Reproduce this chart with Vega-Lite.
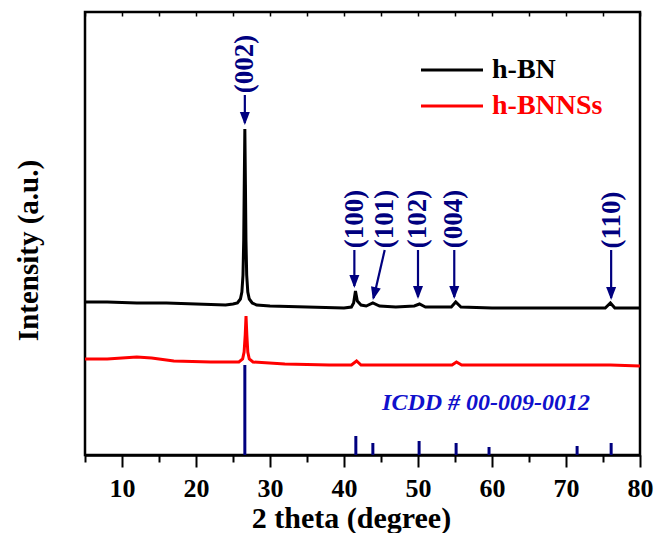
{
  "$schema": "https://vega.github.io/schema/vega-lite/v6.json",
  "width": 555,
  "height": 443,
  "autosize": {"type": "none"},
  "padding": {"left": 85, "top": 12, "right": 17, "bottom": 78},
  "background": "white",
  "config": {
    "view": {"stroke": "black", "strokeWidth": 2.5},
    "font": "Liberation Serif"
  },
  "datasets": {
    "curves": [
      {"sample": "h-BN", "x": 5, "y": 153},
      {"sample": "h-BN", "x": 8, "y": 153},
      {"sample": "h-BN", "x": 12, "y": 152},
      {"sample": "h-BN", "x": 16, "y": 152},
      {"sample": "h-BN", "x": 20, "y": 151},
      {"sample": "h-BN", "x": 24, "y": 150},
      {"sample": "h-BN", "x": 25.0, "y": 151},
      {"sample": "h-BN", "x": 25.6, "y": 152},
      {"sample": "h-BN", "x": 26.0, "y": 156},
      {"sample": "h-BN", "x": 26.2, "y": 163},
      {"sample": "h-BN", "x": 26.35, "y": 180},
      {"sample": "h-BN", "x": 26.45, "y": 215},
      {"sample": "h-BN", "x": 26.52, "y": 270},
      {"sample": "h-BN", "x": 26.6, "y": 326},
      {"sample": "h-BN", "x": 26.68, "y": 270},
      {"sample": "h-BN", "x": 26.75, "y": 215},
      {"sample": "h-BN", "x": 26.85, "y": 180},
      {"sample": "h-BN", "x": 27.0, "y": 163},
      {"sample": "h-BN", "x": 27.2, "y": 156},
      {"sample": "h-BN", "x": 27.6, "y": 152},
      {"sample": "h-BN", "x": 28.2, "y": 150},
      {"sample": "h-BN", "x": 30, "y": 149},
      {"sample": "h-BN", "x": 35, "y": 148},
      {"sample": "h-BN", "x": 40, "y": 147},
      {"sample": "h-BN", "x": 41.0, "y": 148},
      {"sample": "h-BN", "x": 41.3, "y": 152},
      {"sample": "h-BN", "x": 41.55, "y": 164},
      {"sample": "h-BN", "x": 41.8, "y": 154},
      {"sample": "h-BN", "x": 42.3, "y": 150},
      {"sample": "h-BN", "x": 43.0, "y": 149},
      {"sample": "h-BN", "x": 43.9, "y": 152},
      {"sample": "h-BN", "x": 44.8, "y": 149},
      {"sample": "h-BN", "x": 47, "y": 148},
      {"sample": "h-BN", "x": 49.5, "y": 149},
      {"sample": "h-BN", "x": 50.2, "y": 151},
      {"sample": "h-BN", "x": 51, "y": 148},
      {"sample": "h-BN", "x": 54.5, "y": 148},
      {"sample": "h-BN", "x": 55.1, "y": 153},
      {"sample": "h-BN", "x": 55.8, "y": 148},
      {"sample": "h-BN", "x": 60, "y": 147},
      {"sample": "h-BN", "x": 65, "y": 147},
      {"sample": "h-BN", "x": 70, "y": 147},
      {"sample": "h-BN", "x": 75.3, "y": 147},
      {"sample": "h-BN", "x": 76.0, "y": 152},
      {"sample": "h-BN", "x": 76.6, "y": 147},
      {"sample": "h-BN", "x": 80, "y": 147},
      {"sample": "h-BNNSs", "x": 5, "y": 96},
      {"sample": "h-BNNSs", "x": 8, "y": 96},
      {"sample": "h-BNNSs", "x": 10, "y": 97},
      {"sample": "h-BNNSs", "x": 12, "y": 98},
      {"sample": "h-BNNSs", "x": 14, "y": 97},
      {"sample": "h-BNNSs", "x": 17, "y": 94},
      {"sample": "h-BNNSs", "x": 22, "y": 93},
      {"sample": "h-BNNSs", "x": 25.8, "y": 93},
      {"sample": "h-BNNSs", "x": 26.3, "y": 96},
      {"sample": "h-BNNSs", "x": 26.5, "y": 103},
      {"sample": "h-BNNSs", "x": 26.65, "y": 120},
      {"sample": "h-BNNSs", "x": 26.76, "y": 139},
      {"sample": "h-BNNSs", "x": 26.87, "y": 120},
      {"sample": "h-BNNSs", "x": 27.0, "y": 103},
      {"sample": "h-BNNSs", "x": 27.2, "y": 96},
      {"sample": "h-BNNSs", "x": 27.7, "y": 93},
      {"sample": "h-BNNSs", "x": 32, "y": 91},
      {"sample": "h-BNNSs", "x": 38, "y": 90},
      {"sample": "h-BNNSs", "x": 41.0, "y": 90},
      {"sample": "h-BNNSs", "x": 41.7, "y": 94},
      {"sample": "h-BNNSs", "x": 42.3, "y": 90},
      {"sample": "h-BNNSs", "x": 50, "y": 90},
      {"sample": "h-BNNSs", "x": 54.6, "y": 90},
      {"sample": "h-BNNSs", "x": 55.2, "y": 93},
      {"sample": "h-BNNSs", "x": 55.9, "y": 90},
      {"sample": "h-BNNSs", "x": 76, "y": 90},
      {"sample": "h-BNNSs", "x": 80, "y": 89}
    ],
    "sticks": [
      {"x": 26.6, "h": 90},
      {"x": 41.6, "h": 19},
      {"x": 43.9, "h": 12},
      {"x": 50.15, "h": 14},
      {"x": 55.15, "h": 12},
      {"x": 59.6, "h": 8},
      {"x": 71.5, "h": 9},
      {"x": 76.1, "h": 12}
    ],
    "labels": [
      {"hkl": "(002)", "x": 26.6, "y": 391, "ax": 26.6, "ay": 360, "ax2": 26.6, "ay2": 332},
      {"hkl": "(100)", "x": 41.45, "y": 236, "ax": 41.4, "ay": 205, "ax2": 41.4, "ay2": 169},
      {"hkl": "(101)", "x": 45.5, "y": 236, "ax": 45.5, "ay": 205, "ax2": 44.0, "ay2": 157},
      {"hkl": "(102)", "x": 50.0, "y": 236, "ax": 50.0, "ay": 205, "ax2": 50.0, "ay2": 158},
      {"hkl": "(004)", "x": 54.8, "y": 236, "ax": 54.9, "ay": 205, "ax2": 54.9, "ay2": 158},
      {"hkl": "(110)", "x": 76.2, "y": 235, "ax": 76.1, "ay": 205, "ax2": 76.1, "ay2": 157}
    ],
    "heads": [
      {"hkl": "(002)", "x": 26.6, "y": 330},
      {"hkl": "(100)", "x": 41.4, "y": 167},
      {"hkl": "(101)", "x": 43.9, "y": 155},
      {"hkl": "(102)", "x": 50.0, "y": 156},
      {"hkl": "(004)", "x": 54.9, "y": 156},
      {"hkl": "(110)", "x": 76.1, "y": 155}
    ],
    "note": [
      {"text": "ICDD # 00-009-0012", "x": 59.2, "y": 52}
    ]
  },
  "resolve": {"axis": {"x": "independent", "y": "independent"}},
  "layer": [
    {
      "data": {"name": "sticks"},
      "mark": {"type": "rule", "color": "#00007F", "strokeWidth": 3},
      "encoding": {
        "x": {
          "field": "x", "type": "quantitative",
          "scale": {"domain": [5, 80], "nice": false, "zero": false},
          "axis": {
            "orient": "top", "values": [5, 10, 15, 20, 25, 30, 35, 40, 45, 50, 55, 60, 65, 70, 75, 80],
            "labels": false, "title": null, "domain": false, "grid": false, "offset": -4,
            "tickSize": 4, "tickWidth": 1.5, "tickColor": "black"
          }
        },
        "y": {"field": "h", "type": "quantitative", "scale": {"domain": [0, 443], "nice": false, "zero": false}, "axis": null},
        "y2": {"datum": 0}
      }
    },
    {
      "data": {"name": "curves"},
      "mark": {"type": "line", "strokeWidth": 3},
      "encoding": {
        "x": {
          "field": "x", "type": "quantitative",
          "axis": {
            "orient": "bottom",
            "values": [5, 10, 15, 20, 25, 30, 35, 40, 45, 50, 55, 60, 65, 70, 75, 80],
            "labelExpr": "datum.value % 10 === 0 ? datum.label : ''",
            "labelFont": "Liberation Serif", "labelFontWeight": "bold", "labelFontSize": 26,
            "labelColor": "black", "labelBaseline": "alphabetic", "labelPadding": 29,
            "labelFlush": false, "labelOverlap": false,
            "tickColor": "black", "tickWidth": 2,
            "tickSize": {"condition": {"test": "datum.value % 10 === 0", "value": 12}, "value": 7},
            "domain": true, "domainColor": "black", "domainWidth": 2.5, "grid": false,
            "title": "2 theta (degree)", "titleFont": "Liberation Serif", "titleFontWeight": "bold",
            "titleFontSize": 30, "titleColor": "black", "titleX": 266, "titleY": 72,
            "titleBaseline": "alphabetic", "titleAlign": "center"
          }
        },
        "y": {
          "field": "y", "type": "quantitative",
          "axis": {
            "labels": false, "ticks": false, "domain": false, "grid": false,
            "title": "Intensity (a.u.)", "titleFont": "Liberation Serif", "titleFontWeight": "bold",
            "titleFontSize": 29, "titleColor": "black", "titleX": -57, "titleY": 238,
            "titleBaseline": "middle", "titleAlign": "center", "titleAngle": 270
          }
        },
        "color": {
          "field": "sample", "type": "nominal",
          "scale": {"domain": ["h-BN", "h-BNNSs"], "range": ["black", "red"]},
          "legend": {
            "orient": "none", "legendX": 353, "legendY": 44, "title": null,
            "symbolType": "M-6.2,0H6.2", "symbolSize": 100, "symbolStrokeWidth": 3,
            "labelFont": "Liberation Serif", "labelFontWeight": "bold", "labelFontSize": 28,
            "labelOffset": 26, "rowPadding": 8, "labelLimit": 300,
            "encode": {"labels": {"update": {"fill": {"signal": "datum.value === 'h-BN' ? 'black' : 'red'"}}}}
          }
        }
      }
    },
    {
      "data": {"name": "labels"},
      "mark": {"type": "rule", "color": "#00007F", "strokeWidth": 2.2},
      "encoding": {
        "x": {"field": "ax", "type": "quantitative", "axis": null},
        "y": {"field": "ay", "type": "quantitative", "axis": null},
        "x2": {"field": "ax2"},
        "y2": {"field": "ay2"}
      }
    },
    {
      "data": {"name": "heads"},
      "mark": {"type": "point", "shape": "M0,0L-0.5,-1.3L0.5,-1.3Z", "filled": true, "color": "#00007F", "opacity": 1, "size": 400, "strokeWidth": 0},
      "encoding": {
        "x": {"field": "x", "type": "quantitative", "axis": null},
        "y": {"field": "y", "type": "quantitative", "axis": null},
        "angle": {"condition": {"test": "datum.hkl === '(101)'", "value": 13.5}, "value": 0}
      }
    },
    {
      "data": {"name": "labels"},
      "mark": {"type": "text", "angle": 270, "align": "center", "baseline": "middle", "font": "Liberation Serif", "fontWeight": "bold", "fontSize": 27, "color": "#00007F"},
      "encoding": {
        "x": {"field": "x", "type": "quantitative", "axis": null},
        "y": {"field": "y", "type": "quantitative", "axis": null},
        "text": {"field": "hkl"}
      }
    },
    {
      "data": {"name": "note"},
      "mark": {"type": "text", "align": "center", "baseline": "middle", "font": "Liberation Serif", "fontWeight": "bold", "fontStyle": "italic", "fontSize": 24, "color": "#1010CC"},
      "encoding": {
        "x": {"field": "x", "type": "quantitative", "axis": null},
        "y": {"field": "y", "type": "quantitative", "axis": null},
        "text": {"field": "text"}
      }
    }
  ]
}
